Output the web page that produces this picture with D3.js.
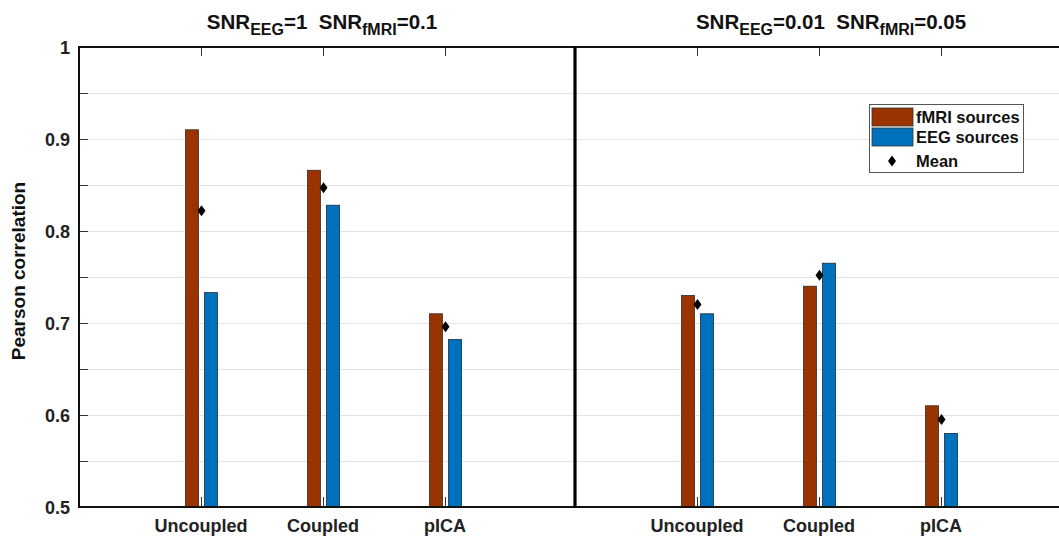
<!DOCTYPE html>
<html>
<head>
<meta charset="utf-8">
<script src="https://cdn.jsdelivr.net/npm/d3@7"></script>
<style>
  body { margin: 0; background: #fff; }
  svg { display: block; font-family: Arial, "Liberation Sans", Helvetica, sans-serif; }
</style>
</head>
<body>
<svg id="chart" width="1059" height="536"></svg>
<script>
// ---- Data ----
const categories = ["Uncoupled", "Coupled", "pICA"];
const panelTitles = [
  [{t: "SNR"}, {t: "EEG", sub: true}, {t: "=1  SNR"}, {t: "fMRI", sub: true}, {t: "=0.1"}],
  [{t: "SNR"}, {t: "EEG", sub: true}, {t: "=0.01  SNR"}, {t: "fMRI", sub: true}, {t: "=0.05"}]
];
const fmriLeft  = [0.910, 0.866, 0.710];
const eegLeft   = [0.733, 0.828, 0.682];
const meanLeft  = [0.822, 0.847, 0.696];
const fmriRight = [0.730, 0.740, 0.610];
const eegRight  = [0.710, 0.765, 0.580];
const meanRight = [0.720, 0.752, 0.595];
const yTicks = [0.5, 0.6, 0.7, 0.8, 0.9, 1];
const yTickLabels = ["0.5", "0.6", "0.7", "0.8", "0.9", "1"];
const yMinorTicks = [0.55, 0.65, 0.75, 0.85, 0.95];
const seriesNames = ["fMRI sources", "EEG sources", "Mean"];
const colors = {fmri: "#993300", eeg: "#0072BD"};

const svg = d3.select("#chart");
const W = 1059, H = 536;
const yTop = 47, yBottom = 507;
const y = d3.scaleLinear().domain([0.5, 1]).range([yBottom, yTop]);

const panels = [
  {x0: 79, fmri: fmriLeft, eeg: eegLeft, mean: meanLeft, title: panelTitles[0], titleX: 322},
  {x0: 575, fmri: fmriRight, eeg: eegRight, mean: meanRight, title: panelTitles[1], titleX: 831}
];

// grid lines (light gray)
const allTicks = yTicks.concat(yMinorTicks).filter(v => v > 0.5 && v < 1);
svg.append("g").selectAll("line").data(allTicks).join("line")
  .attr("x1", 80).attr("x2", W)
  .attr("y1", d => Math.round(y(d)) + 0.5).attr("y2", d => Math.round(y(d)) + 0.5)
  .attr("stroke", "#e3e3e3").attr("stroke-width", 1);

panels.forEach((p, pi) => {
  const x = d3.scaleLinear().domain([0, 4]).range([p.x0, p.x0 + 4 * 122]);
  const g = svg.append("g");
  const bw = 13;
  // bars
  g.selectAll("rect.f").data(p.fmri).join("rect").attr("class", "f")
    .attr("x", (d, i) => x(i + 1) - 15.5).attr("width", bw)
    .attr("y", d => y(d)).attr("height", d => y(0.5) - y(d))
    .attr("fill", colors.fmri).attr("stroke", "#3a2a20").attr("stroke-width", 0.8);
  g.selectAll("rect.e").data(p.eeg).join("rect").attr("class", "e")
    .attr("x", (d, i) => x(i + 1) + 3.5).attr("width", bw)
    .attr("y", d => y(d)).attr("height", d => y(0.5) - y(d))
    .attr("fill", colors.eeg).attr("stroke", "#1a2a3a").attr("stroke-width", 0.8);
  // means (diamonds)
  g.selectAll("path.m").data(p.mean).join("path").attr("class", "m")
    .attr("d", (d, i) => {
      const cx = x(i + 1) + 0.5, cy = y(d);
      return `M${cx},${cy - 5.5}L${cx + 4},${cy}L${cx},${cy + 5.5}L${cx - 4},${cy}Z`;
    })
    .attr("fill", "#000");
  // top and bottom ticks at categories
  categories.forEach((c, i) => {
    const cx = Math.round(x(i + 1)) + 0.5;
    g.append("line").attr("x1", cx).attr("x2", cx).attr("y1", yTop).attr("y2", yTop + 9)
      .attr("stroke", "#333").attr("stroke-width", 1);
    g.append("line").attr("x1", cx).attr("x2", cx).attr("y1", yBottom).attr("y2", yBottom - 10)
      .attr("stroke", "#333").attr("stroke-width", 1);
  });
  // x labels
  g.selectAll("text.cat").data(categories).join("text").attr("class", "cat")
    .attr("x", (d, i) => x(i + 1)).attr("y", 532)
    .attr("text-anchor", "middle").attr("font-size", 18).attr("font-weight", "bold")
    .attr("fill", "#222").text(d => d);
  // title with subscripts
  const t = svg.append("text").attr("x", p.titleX).attr("y", 29)
    .attr("text-anchor", "middle").attr("font-weight", "bold").attr("fill", "#111")
    .attr("font-size", 20.5).style("white-space", "pre");
  p.title.forEach((part, k) => {
    const ts = t.append("tspan").text(part.t);
    if (part.sub) ts.attr("font-size", 16).attr("dy", 6);
    else if (k > 0) ts.attr("dy", -6);
  });
});

// y axis ticks and labels
svg.append("g").selectAll("line").data(yTicks.concat(yMinorTicks)).join("line")
  .attr("x1", 79).attr("x2", 88)
  .attr("y1", d => Math.round(y(d)) + 0.5).attr("y2", d => Math.round(y(d)) + 0.5)
  .attr("stroke", "#333").attr("stroke-width", 1);
svg.append("g").selectAll("text").data(yTicks).join("text")
  .attr("x", 70).attr("y", d => y(d) + 6.5)
  .attr("text-anchor", "end").attr("font-size", 18).attr("font-weight", "bold")
  .attr("fill", "#222").text((d, i) => yTickLabels[i]);

// y axis title
svg.append("text").attr("transform", "translate(25,271) rotate(-90)")
  .attr("text-anchor", "middle").attr("font-size", 19).attr("font-weight", "bold")
  .attr("fill", "#111").text("Pearson correlation");

// axes frame
svg.append("line").attr("x1", 78).attr("x2", W).attr("y1", yTop).attr("y2", yTop)
  .attr("stroke", "#111").attr("stroke-width", 2);
svg.append("line").attr("x1", 78).attr("x2", W).attr("y1", yBottom).attr("y2", yBottom)
  .attr("stroke", "#111").attr("stroke-width", 2);
svg.append("line").attr("x1", 79).attr("x2", 79).attr("y1", yTop - 1).attr("y2", yBottom + 1)
  .attr("stroke", "#111").attr("stroke-width", 2);
svg.append("line").attr("x1", 575).attr("x2", 575).attr("y1", yTop).attr("y2", yBottom + 1)
  .attr("stroke", "#000").attr("stroke-width", 3.2);

// legend
const lg = svg.append("g");
lg.append("rect").attr("x", 869.5).attr("y", 104.5).attr("width", 154).attr("height", 68)
  .attr("fill", "#fff").attr("stroke", "#555").attr("stroke-width", 1);
const legendRows = [
  {name: seriesNames[0], type: "rect", color: colors.fmri, y: 117},
  {name: seriesNames[1], type: "rect", color: colors.eeg, y: 137},
  {name: seriesNames[2], type: "diamond", color: "#000", y: 161}
];
legendRows.forEach(r => {
  if (r.type === "rect") {
    lg.append("rect").attr("x", 872).attr("y", r.y - 9).attr("width", 41).attr("height", 18)
      .attr("fill", r.color).attr("stroke", "#333").attr("stroke-width", 0.8);
  } else {
    lg.append("path").attr("d", `M892,${r.y - 5.5}L896,${r.y}L892,${r.y + 5.5}L888,${r.y}Z`)
      .attr("fill", r.color);
  }
  lg.append("text").attr("x", 916).attr("y", r.y + 6)
    .attr("font-size", 16.5).attr("font-weight", "bold").attr("fill", "#111").text(r.name);
});
</script>
</body>
</html>
